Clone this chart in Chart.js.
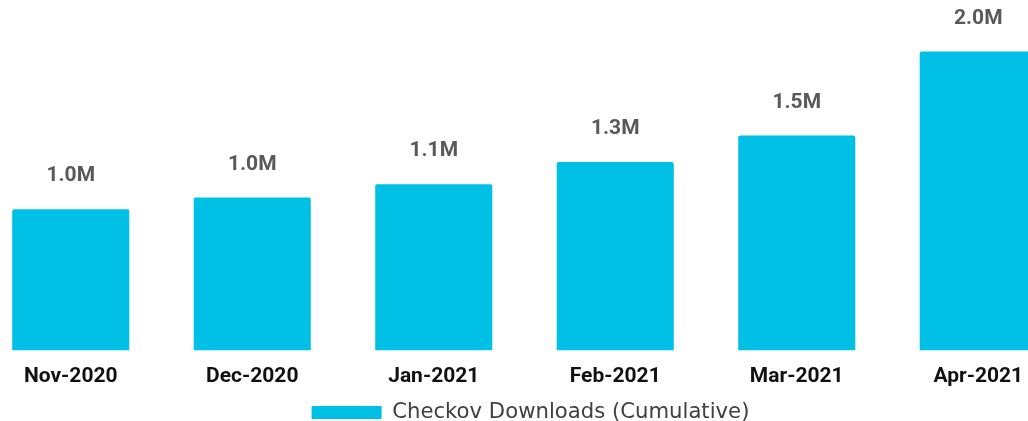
<!DOCTYPE html>
<html>
<head>
<meta charset="utf-8">
<script src="https://cdn.jsdelivr.net/npm/chart.js@4"></script>
<style>
  html, body { margin: 0; padding: 0; background: #ffffff; overflow: hidden; width: 1028px; height: 421px; }
  #wrap { position: absolute; left: -20px; top: 0; width: 1089px; height: 435px; }
</style>
</head>
<body>
<div id="wrap"><canvas id="c"></canvas></div>
<script>
const categories = ["Nov-2020", "Dec-2020", "Jan-2021", "Feb-2021", "Mar-2021", "Apr-2021"];
const downloadsMillions = [0.96, 1.04, 1.13, 1.28, 1.46, 2.03];
const seriesName = "Checkov Downloads (Cumulative)";

const barColor = "#00C0E6";

const valueLabels = {
  id: "valueLabels",
  afterDatasetsDraw(chart) {
    const ctx = chart.ctx;
    const meta = chart.getDatasetMeta(0);
    ctx.save();
    ctx.font = "bold 21px Roboto";
    ctx.fillStyle = "#595959";
    ctx.textAlign = "center";
    ctx.textBaseline = "middle";
    meta.data.forEach((bar, i) => {
      const v = chart.data.datasets[0].data[i];
      ctx.fillText(v.toFixed(1) + "M", bar.x, bar.y - 33);
    });
    ctx.restore();
  }
};

const legendShift = {
  id: "legendShift",
  beforeDraw(chart) {
    const lg = chart.legend;
    if (lg && !lg._shifted) {
      lg.left += 6; lg.right += 6;
      if (lg.legendHitBoxes) lg.legendHitBoxes.forEach(b => { b.left += 6; });
      lg._shifted = true;
    }
  }
};

new Chart(document.getElementById("c"), {
  type: "bar",
  data: {
    labels: categories,
    datasets: [{
      label: seriesName,
      data: downloadsMillions,
      backgroundColor: barColor,
      borderWidth: 0,
      borderRadius: 2,
      borderSkipped: "bottom",
      barPercentage: 0.645,
      categoryPercentage: 1.0
    }]
  },
  options: {
    responsive: true,
    maintainAspectRatio: false,
    animation: false,
    layout: { padding: { top: 0, bottom: 2, left: 0, right: 0 } },
    scales: {
      x: {
        grid: { display: false },
        border: { display: false },
        ticks: {
          color: "#111111",
          font: { family: "Roboto", size: 21, weight: "bold" },
          padding: 6
        }
      },
      y: {
        display: false,
        min: 0,
        max: 2.38
      }
    },
    plugins: {
      legend: {
        position: "bottom",
        labels: {
          boxWidth: 70,
          boxHeight: 13,
          color: "#404040",
          font: { family: "DejaVu Sans", size: 21.2 },
          padding: 6
        }
      },
      tooltip: { enabled: false }
    }
  },
  plugins: [valueLabels, legendShift]
});
</script>
</body>
</html>
